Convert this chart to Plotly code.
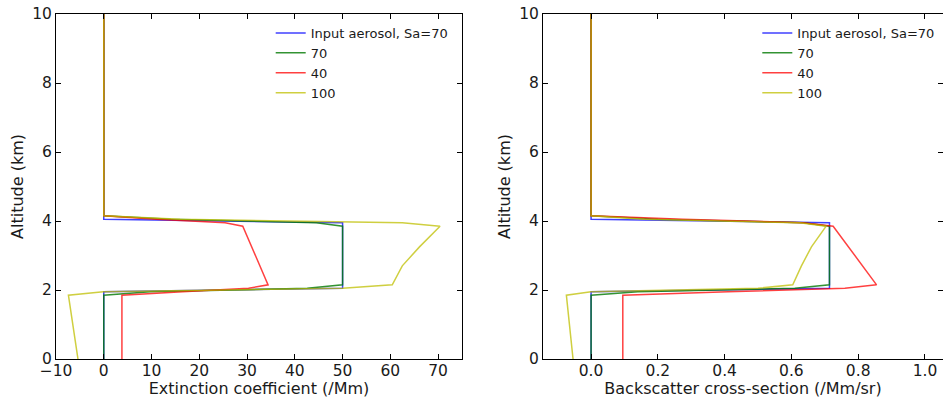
import plotly.graph_objects as go

# ---- data ----
sa_labels = ["Input aerosol, Sa=70", "70", "40", "100"]

alt_input = [0, 1.95, 2.05, 3.95, 4.05, 10]
ext_input = [0, 0, 50, 50, 0, 0]
bsc_input = [0, 0, 0.714, 0.714, 0, 0]

alt_sa70 = [0, 1.85, 1.95, 2.05, 2.15, 3.85, 3.95, 4.05, 4.15, 10]
ext_sa70 = [0, 0, 9.7, 42.6, 50, 50, 44.5, 14, 0, 0]
bsc_sa70 = [0, 0, 0.14, 0.61, 0.714, 0.714, 0.635, 0.2, 0, 0]

alt_sa40 = [0, 1.85, 1.95, 2.05, 2.15, 3.85, 3.95, 4.05, 4.15, 10]
ext_sa40 = [3.8, 3.8, 16.5, 30.3, 34.4, 29.1, 25.4, 11, 0, 0]
bsc_sa40 = [0.095, 0.095, 0.41, 0.76, 0.855, 0.725, 0.635, 0.275, 0, 0]

alt_sa100 = [0, 1.85, 1.95, 2.05, 2.15, 2.7, 3.25, 3.85, 3.95, 4.05, 4.15, 10]
ext_sa100 = [-5.4, -7.4, -0.1, 50, 60.4, 62.5, 66.1, 70.4, 62.5, 16, 0, 0]
bsc_sa100 = [-0.054, -0.074, 0.0, 0.5, 0.604, 0.63, 0.66, 0.704, 0.625, 0.16, 0, 0]

colors = ["rgba(0,0,255,0.75)", "rgba(0,120,0,0.8)", "rgba(255,0,0,0.75)", "rgba(191,191,0,0.75)"]

series = [
    (alt_input, ext_input, bsc_input),
    (alt_sa70, ext_sa70, bsc_sa70),
    (alt_sa40, ext_sa40, bsc_sa40),
    (alt_sa100, ext_sa100, bsc_sa100),
]

FONT = "DejaVu Sans"
TXT = "#1a1a1a"
fig = go.Figure()
for (alt, ext, bsc), name, col in zip(series, sa_labels, colors):
    fig.add_trace(go.Scatter(x=ext, y=alt, mode="lines", name=name,
                             line=dict(color=col, width=1.5),
                             xaxis="x", yaxis="y", legend="legend"))
    fig.add_trace(go.Scatter(x=bsc, y=alt, mode="lines", name=name,
                             line=dict(color=col, width=1.5),
                             xaxis="x2", yaxis="y2", legend="legend2"))

W, H = 943, 398
ml, mr, mt, mb = 56, 0, 14, 39
pw = W - ml - mr
ph = H - mt - mb

axis_common = dict(showline=True, linecolor="black", linewidth=1, mirror="ticks",
                   ticks="inside", ticklen=5, tickcolor="black", showgrid=False,
                   zeroline=False, automargin=False,
                   tickfont=dict(family=FONT, size=15.5, color=TXT))
title_font = dict(family=FONT, size=16, color=TXT)

fig.update_layout(
    width=W, height=H,
    margin=dict(l=ml, r=mr, t=mt, b=mb, autoexpand=False),
    plot_bgcolor="white", paper_bgcolor="white",
    font=dict(family=FONT, size=15.5, color=TXT),
    xaxis=dict(domain=[0, (462 - ml) / pw], range=[-10, 75], dtick=10, anchor="y",
               ticklabelstandoff=-3,
               title=dict(text="Extinction coefficient (/Mm)", standoff=0, font=title_font),
               **axis_common),
    yaxis=dict(domain=[0, 1], range=[0, 10], dtick=2, anchor="x",
               title=dict(text="Altitude (km)", standoff=4, font=title_font),
               **axis_common),
    xaxis2=dict(domain=[(543 - ml) / pw, 1], range=[-0.144, 1.054], dtick=0.2, tick0=0,
                tickformat=".1f", anchor="y2", ticklabelstandoff=-3,
                title=dict(text="Backscatter cross-section (/Mm/sr)", standoff=0, font=title_font),
                **axis_common),
    yaxis2=dict(domain=[0, 1], range=[0, 10], dtick=2, anchor="x2",
                title=dict(text="Altitude (km)", standoff=4, font=title_font),
                **axis_common),
    legend=dict(x=(270.7 - ml) / pw, y=1 - (18 - mt) / ph, xanchor="left", yanchor="top",
                bgcolor="rgba(0,0,0,0)", borderwidth=0,
                font=dict(family=FONT, size=13, color=TXT), tracegroupgap=0),
    legend2=dict(x=(757.3 - ml) / pw, y=1 - (18 - mt) / ph, xanchor="left", yanchor="top",
                 bgcolor="rgba(0,0,0,0)", borderwidth=0,
                 font=dict(family=FONT, size=13, color=TXT), tracegroupgap=0),
)

fig.write_html("out.html", config={"displayModeBar": False},
               post_script="document.body.style.margin='0';document.body.style.overflow='hidden';")
